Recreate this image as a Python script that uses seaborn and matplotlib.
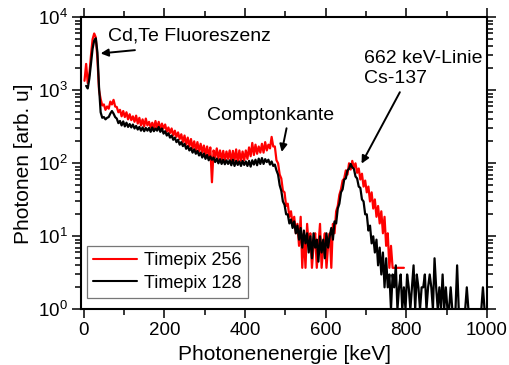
import numpy as np
import pandas as pd
import matplotlib
matplotlib.use("Agg")
import matplotlib.pyplot as plt
import seaborn as sns

# Bin centres of the energy spectrum (4 keV bins)
bin_width = 4
energy_kev = np.arange(2, 1000, bin_width)

# Counts per bin, Timepix 256
counts_256 = [
    1350, 2300, 1250, 1650, 3000, 5000, 6000, 5300, 2700, 1000,
    760, 620, 640, 540, 600, 560, 700, 640, 740, 600,
    590, 500, 540, 440, 520, 430, 500, 400, 470, 390,
    440, 370, 450, 350, 420, 330, 400, 320, 410, 330,
    370, 310, 360, 300, 380, 300, 370, 290, 350, 300,
    340, 270, 310, 260, 300, 240, 280, 230, 265, 215,
    250, 195, 240, 180, 225, 170, 215, 160, 200, 150,
    195, 145, 185, 140, 175, 130, 170, 125, 165, 55,
    150, 120, 160, 115, 150, 112, 148, 108, 145, 115,
    150, 105, 148, 110, 155, 102, 150, 108, 145, 110,
    150, 115, 165, 125, 190, 130, 180, 135, 170, 140,
    185, 140, 195, 150, 180, 160, 230, 170, 170, 110,
    100, 70, 62, 42, 40, 26, 28, 18.5, 22, 14.8,
    18.5, 11, 14.8, 7.4, 18.5, 3.7, 11, 3.7, 14.8, 7.4,
    11, 3.7, 7.4, 11, 3.7, 7.4, 14.8, 3.7, 7.4, 11,
    3.7, 7.4, 11, 3.7, 14.8, 11, 22, 26, 37, 44,
    58, 62, 80, 70, 100, 82, 108, 88, 100, 74,
    85, 60, 72, 48, 58, 40, 48, 30, 40, 24,
    32, 18.5, 26, 15, 22, 11, 18.5, 7.4, 11, 3.7,
    7.4, 3.7, 3.7, 3.7, 3.7, 3.7, np.nan, 3.7, 3.7, np.nan,
] + [np.nan] * 50

# Counts per bin, Timepix 128
counts_128 = [
    np.nan, 1150, 1060, 1450, 2300, 3700, 4800, 5150, 3300, 1100,
    500, 420, 430, 400, 420, 430, 480, 520, 480, 430,
    410, 355, 380, 330, 375, 320, 360, 315, 345, 310,
    340, 300, 325, 290, 315, 280, 310, 275, 305, 280,
    305, 270, 310, 275, 300, 280, 315, 270, 300, 255,
    275, 240, 258, 225, 240, 210, 225, 195, 210, 180,
    195, 172, 185, 158, 172, 150, 162, 140, 155, 135,
    148, 128, 140, 120, 136, 115, 130, 110, 124, 112,
    120, 104, 116, 100, 114, 98, 112, 97, 110, 98,
    110, 94, 112, 92, 108, 95, 106, 92, 108, 95,
    106, 92, 108, 90, 110, 96, 112, 94, 116, 98,
    118, 98, 114, 104, 112, 96, 106, 92, 96, 80,
    70, 50, 42, 30, 27, 20, 20, 15, 17, 13,
    16, 11, 14, 9, 13, 7, 12, 8, 11, 6,
    10, 5, 11, 7, 9, 4.5, 10, 6, 9, 5,
    11, 7, 10, 13, 9, 16, 15, 24, 28, 40,
    44, 60, 62, 80, 84, 98, 88, 84, 66, 62,
    48, 46, 32, 30, 20, 20, 12, 14, 8, 10,
    6, 9, 4, 7, 3, 6, 2, 5, 2, 3,
    1, 3, 2, 4, 1, 2, 3, 1, 2, 1,
    3, 2, 1, 2, 4, 1, 3, 2, 1, 2,
    2, 3, 1, 2, 3, 2, 1, 5, 2, 1,
    2, 1, 3, 1, 2, 1, 1, 2, 1, 1,
    1, 4, 1, 1, 1, 1, 1, 2, 1, 1,
    1, 1, 1, 1, 1, 1, 1, 2, 1, 1,
]

series_labels = ["Timepix 256", "Timepix 128"]
series_colors = ["#ff0000", "#000000"]

sns.set_theme(style="ticks")
plt.rcParams["font.family"] = ["Liberation Sans", "DejaVu Sans"]
plt.rcParams["mathtext.fontset"] = "custom"
plt.rcParams["mathtext.rm"] = "Liberation Sans"
plt.rcParams["mathtext.it"] = "Liberation Sans:italic"
plt.rcParams["mathtext.bf"] = "Liberation Sans:bold"
for key in ["text.color", "axes.labelcolor", "xtick.color", "ytick.color", "axes.edgecolor"]:
    plt.rcParams[key] = "black"

fig = plt.figure(figsize=(5.09, 3.65), dpi=100)
ax = fig.add_axes([0.1597, 0.1526, 0.797, 0.800])

for values, label, color in zip([counts_256, counts_128], series_labels, series_colors):
    df = pd.DataFrame({"energy": energy_kev, "counts": np.asarray(values, dtype=float)})
    sns.lineplot(data=df, x="energy", y="counts", ax=ax, color=color, lw=1.6,
                 label=label, estimator=None, sort=False)

ax.set_yscale("log", nonpositive="mask")
ax.set_xlim(-6, 1000)
ax.set_ylim(1, 1e4)
ax.set_xticks([0, 200, 400, 600, 800, 1000])
ax.set_xticks([100, 300, 500, 700, 900], minor=True)

ax.set_xlabel("Photonenenergie [keV]", fontsize=15, labelpad=4)
ax.set_ylabel("Photonen [arb. u]", fontsize=15, labelpad=4)

for side in ["left", "right", "top", "bottom"]:
    ax.spines[side].set_visible(True)
    ax.spines[side].set_linewidth(1.5)
    ax.spines[side].set_color("black")

ax.tick_params(which="both", direction="out", top=True, right=True,
               labeltop=False, labelright=False, colors="black",
               labelsize=13.5, width=1.1)
ax.tick_params(which="major", length=6.5, pad=3)
ax.tick_params(which="minor", length=4)

arrow_kw = dict(arrowstyle="-|>", color="black", lw=1.4, mutation_scale=11,
                shrinkA=0, shrinkB=0)

ax.text(60, 5530, "Cd,Te Fluoreszenz", fontsize=14, ha="left", va="center")
ax.annotate("", xy=(42, 3200), xytext=(127, 3550), arrowprops=arrow_kw)

ax.text(305, 455, "Comptonkante", fontsize=14, ha="left", va="center")
ax.annotate("", xy=(491, 143), xytext=(503, 302), arrowprops=arrow_kw)

ax.text(696, 1980, "662 keV-Linie\nCs-137", fontsize=14, ha="left", va="center",
        linespacing=1.2)
ax.annotate("", xy=(689, 99), xytext=(784, 942), arrowprops=arrow_kw)

leg = ax.legend(loc="lower left", bbox_to_anchor=(0.014, 0.039), borderaxespad=0,
                fontsize=13, frameon=True, fancybox=False, handlelength=2.4,
                handletextpad=0.4, labelspacing=0.3, borderpad=0.35)
leg.get_frame().set_edgecolor("#555555")
leg.get_frame().set_linewidth(0.9)
for line in leg.get_lines():
    line.set_linewidth(1.5)

fig.savefig("out.png", dpi=100)
